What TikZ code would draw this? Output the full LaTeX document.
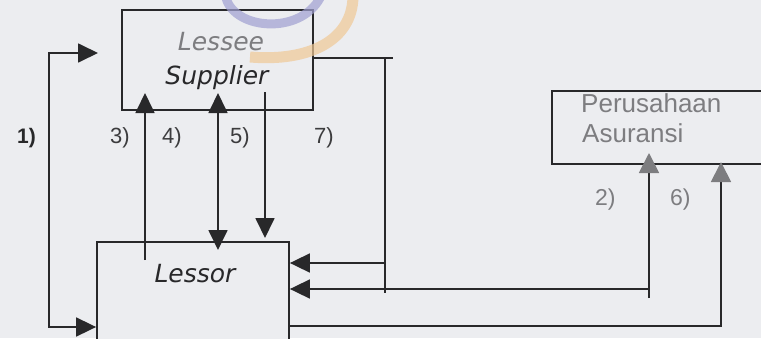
\documentclass[tikz,border=0pt]{standalone}
\usepackage{fontspec}
\setmainfont{Liberation Sans}
\newfontfamily\verd{DejaVu Sans}
\usetikzlibrary{arrows.meta}
\definecolor{bg}{RGB}{236,237,240}
\definecolor{ink}{RGB}{40,40,42}
\definecolor{grayink}{RGB}{125,125,128}
\definecolor{lblink}{RGB}{60,60,62}
\definecolor{wmblue}{RGB}{160,160,210}
\definecolor{wmorange}{RGB}{240,200,150}
\tikzset{
  boxnode/.style={draw=ink, line width=1.8pt, fill=bg, inner sep=0pt, rectangle},
  conn/.style={draw=ink, line width=1.8pt},
  tip/.style={-{Triangle[length=20pt,width=19pt]}},
  graytip/.style={-{Triangle[length=20pt,width=20pt,color=grayink,fill=grayink]}},
  boxtext/.style={inner sep=0pt, anchor=base, font=\verd\itshape\fontsize{25}{30}\selectfont},
  lbl/.style={inner sep=0pt, anchor=base west, text=lblink, font=\fontsize{22}{26}\selectfont},
  glbl/.style={inner sep=0pt, anchor=base west, text=grayink, font=\fontsize{23}{27}\selectfont},
  wm/.style={line width=9pt, opacity=0.7},
}
\begin{document}
\begin{tikzpicture}[x=1pt,y=-1pt]
\clip (0,0) rectangle (761,338);
\fill[bg] (0,0) rectangle (761,338);
% boxes
\node[boxnode, minimum width=191pt, minimum height=100pt] (lessee) at (217.5,60) {};
\node[boxnode, minimum width=192pt, minimum height=110pt] (lessor) at (193,297) {};
\node[boxnode, minimum width=213pt, minimum height=73pt] (asur) at (658.5,127.5) {};
% box texts
\node[boxtext, text=grayink] (tlessee) at (221,50) {Lessee};
\node[boxtext, text=ink] (tsupplier) at (217,84) {Supplier};
\node[boxtext, text=ink] (tlessor) at (195,282) {Lessor};
\node[inner sep=0pt, anchor=base west, text=grayink, font=\fontsize{26}{30}\selectfont] (tper) at (581,112) {Perusahaan};
\node[inner sep=0pt, anchor=base west, text=grayink, font=\fontsize{26}{30}\selectfont] (tasu) at (582,142) {Asuransi};
% watermark
\draw[wm, wmorange, line width=11pt] (353,-3) .. controls (352,40) and (310,62) .. (250,57);
\draw[wm, wmblue] (226,-2) .. controls (235,30) and (300,35) .. (320,-2);
% labels
\node[lbl, text=ink, font=\bfseries\fontsize{21}{26}\selectfont] (l1) at (17,143) {1)};
\node[lbl] (l3) at (110,143) {3)};
\node[lbl] (l4) at (162,143) {4)};
\node[lbl] (l5) at (230,143) {5)};
\node[lbl] (l7) at (314,143) {7)};
\node[glbl] (l2) at (595,205) {2)};
\node[glbl] (l6) at (670,205) {6)};
% coordinates
\coordinate (a1top) at (49,53);
\coordinate (a1tip) at (98,53);
\coordinate (a1bot) at (49,327);
\coordinate (a3s) at (145,260);
\coordinate (a3t) at (145,93);
\coordinate (a45t) at (218,93);
\coordinate (a45b) at (218,250);
\coordinate (asupS) at (265,92);
\coordinate (asupT) at (265,238);
\coordinate (c7a) at (385,58);
\coordinate (c7end) at (393,58);
\coordinate (c7bot) at (385,293);
\coordinate (c7mid) at (385,263);
\coordinate (c2bot) at (649,298);
\coordinate (c2mid) at (649,289);
\coordinate (c2tip) at (649,153);
\coordinate (c6c) at (721,326);
\coordinate (c6tip) at (721,162);
% connector 1
\draw[conn, {Triangle[length=20pt,width=19pt]}-{Triangle[length=20pt,width=19pt]}] (a1tip) -- (a1top) -- (a1bot) -- (a1bot -| lessor.west);
% connector 3
\draw[conn, tip] (a3s) -- (a3t);
% connector 4/5
\draw[conn, {Triangle[length=20pt,width=19pt]}-{Triangle[length=20pt,width=19pt]}] (a45t) -- (a45b);
% supplier down
\draw[conn, tip] (asupS) -- (asupT);
% connector 7
\draw[conn] (c7a -| lessee.east) -- (c7end);
\draw[conn] (c7a) -- (c7bot);
\draw[conn, tip] (c7mid) -- (c7mid -| lessor.east);
% connector 2
\draw[conn, graytip] (c2bot) -- (c2tip);
\draw[conn, tip] (c2mid) -- (c2mid -| lessor.east);
% connector 6
\draw[conn, graytip] (c6c -| lessor.east) -- (c6c) -- (c6tip);
\end{tikzpicture}
\end{document}
